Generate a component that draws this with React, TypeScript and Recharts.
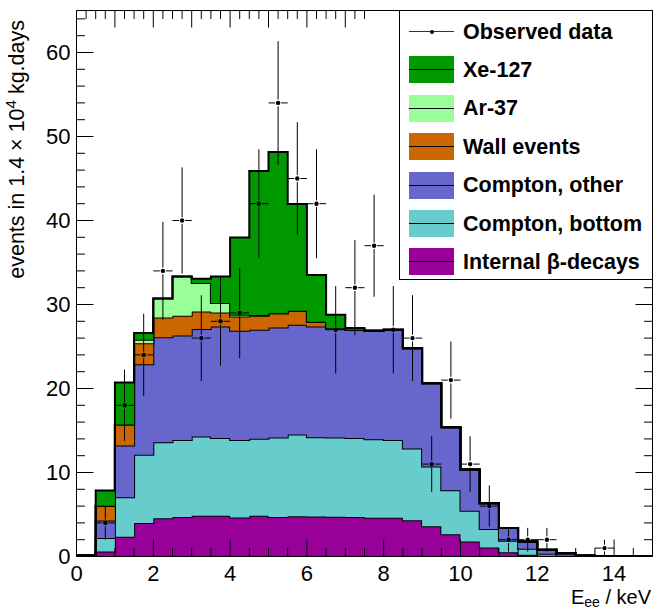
import React from 'react';
import { ComposedChart, Area, Scatter, XAxis, YAxis, ReferenceLine } from 'recharts';

// ---- data (bins of 0.5 keV from 0 to 15 keV) ----
const binEdges = [0, 0.5, 1, 1.5, 2, 2.5, 3, 3.5, 4, 4.5, 5, 5.5, 6, 6.5, 7, 7.5, 8, 8.5, 9, 9.5, 10, 10.5, 11, 11.5, 12, 12.5, 13, 13.5, 14, 14.5, 15];

const internalBeta = [0, 0.6, 2.35, 4.0, 4.55, 4.7, 4.85, 4.85, 4.65, 4.85, 4.7, 4.8, 4.77, 4.74, 4.7, 4.6, 4.6, 4.33, 3.6, 2.64, 1.8, 1.07, 0.52, 0.2, 0.08, 0.03, 0.01, 0, 0, 0];
const comptonBottom = [0, 1.59, 4.7, 8.1, 9.05, 9.16, 9.44, 9.25, 9.21, 9.17, 9.47, 9.72, 9.43, 9.43, 9.4, 9.37, 9.26, 8.53, 7.1, 5.24, 3.64, 2.19, 1.35, 0.71, 0.24, 0.05, 0.01, 0, 0, 0];
const comptonOther = [0, 2.11, 6.15, 10.8, 12.5, 12.44, 12.78, 13.28, 13.01, 12.97, 13.09, 13.06, 13.18, 12.9, 12.85, 12.9, 13.13, 11.94, 9.92, 7.5, 4.91, 3.09, 1.51, 0.88, 0.47, 0.32, 0.1, 0.06, 0.04, 0.03];
const wallEvents = [0.15, 1.74, 2.5, 2.5, 2.35, 2.35, 2.1, 1.67, 1.7, 1.66, 1.71, 1.67, 0.57, 0.1, 0.05, 0, 0, 0, 0, 0, 0, 0, 0, 0, 0, 0, 0, 0, 0, 0];
const ar37 = [0, 0, 0, 0.4, 2.25, 4.68, 3.38, 1.12, 0.2, 0.1, 0, 0, 0, 0, 0, 0, 0, 0, 0, 0, 0, 0, 0, 0, 0, 0, 0, 0, 0, 0];
const xe127 = [0, 1.82, 5.0, 0.8, 0, 0, 0.51, 3.16, 9.21, 17.15, 19.17, 12.7, 5.55, 1.62, 0.2, 0, 0, 0, 0, 0, 0, 0, 0, 0, 0, 0, 0, 0, 0, 0];

const observed = [0, 4, 18, 24, 34, 40, 26, 28, 29, 42, 54, 45, 42, 27, 32, 37, 27, 26, 11, 21, 11, 6, 2, 2, 2, 0, 0, 1, 0, 0];
const observedErr = [0, 2.0, 4.24, 4.9, 5.83, 6.32, 5.1, 5.29, 5.39, 6.48, 7.35, 6.71, 6.48, 5.2, 5.66, 6.08, 5.2, 5.1, 3.32, 4.58, 3.32, 2.45, 1.41, 1.41, 1.41, 0, 0, 1.0, 0, 0];

const xTicks = [0, 0.5, 1, 1.5, 2, 2.5, 3, 3.5, 4, 4.5, 5, 5.5, 6, 6.5, 7, 7.5, 8, 8.5, 9, 9.5, 10, 10.5, 11, 11.5, 12, 12.5, 13, 13.5, 14, 14.5, 15];
const yTicks = [0, 2, 4, 6, 8, 10, 12, 14, 16, 18, 20, 22, 24, 26, 28, 30, 32, 34, 36, 38, 40, 42, 44, 46, 48, 50, 52, 54, 56, 58, 60, 62, 64];

// ---- series config (bottom of stack first) ----
const series = [
  { key: 'ib', name: 'Internal \u03b2-decays', color: '#990099', values: internalBeta },
  { key: 'cb', name: 'Compton, bottom', color: '#66cccc', values: comptonBottom },
  { key: 'co', name: 'Compton, other', color: '#6666cc', values: comptonOther },
  { key: 'we', name: 'Wall events', color: '#cc6600', values: wallEvents },
  { key: 'ar', name: 'Ar-37', color: '#99ff99', values: ar37 },
  { key: 'xe', name: 'Xe-127', color: '#009900', values: xe127 },
];

const nBins = binEdges.length - 1;
const stackRows = binEdges.map((e, i) => {
  const b = Math.min(i, nBins - 1);
  const row: any = { edge: e };
  series.forEach((s) => { row[s.key] = s.values[b]; });
  return row;
});

const points = observed
  .map((v, i) => ({ edge: (binEdges[i] + binEdges[i + 1]) / 2, lo: binEdges[i], hi: binEdges[i + 1], count: v, err: observedErr[i] }))
  .filter((p) => p.count > 0);

// ---- styling ----
const FONT = '"Liberation Sans", Arial, Helvetica, sans-serif';
const MAJ = 17;
const MIN = 8.5;
const VGAP = 0.4;
const HGAP = 0.08;
const isMult = (v: number, m: number) => Math.abs(v / m - Math.round(v / m)) < 1e-6;

function BottomTick(props: any) {
  const { x, y, payload } = props;
  const major = isMult(payload.value, 2);
  return (
    <g>
      <line x1={x} x2={x} y1={y} y2={y - (major ? MAJ : MIN)} stroke="#000" strokeWidth={1} />
      {major && (
        <text x={x} y={y + 24.5} textAnchor="middle" fontSize={22} fontFamily={FONT} fill="#000">{payload.value}</text>
      )}
    </g>
  );
}
function TopTick(props: any) {
  const { x, y, payload } = props;
  const major = isMult(payload.value, 2);
  return <line x1={x} x2={x} y1={y} y2={y + (major ? MAJ : MIN)} stroke="#000" strokeWidth={1} />;
}
function LeftTick(props: any) {
  const { x, y, payload } = props;
  const major = isMult(payload.value, 10);
  return (
    <g>
      <line x1={x} x2={x + (major ? MAJ : MIN)} y1={y} y2={y} stroke="#000" strokeWidth={1} />
      {major && (
        <text x={x - 6} y={y} dy="0.36em" textAnchor="end" fontSize={22} fontFamily={FONT} fill="#000">{payload.value}</text>
      )}
    </g>
  );
}
function RightTick(props: any) {
  const { x, y, payload } = props;
  const major = isMult(payload.value, 10);
  return <line x1={x} x2={x - (major ? MAJ : MIN)} y1={y} y2={y} stroke="#000" strokeWidth={1} />;
}

function YTitle() {
  return (
    <text transform="translate(23.5,20) rotate(-90)" textAnchor="end" fontSize={21.5} fontFamily={FONT} fill="#000">
      events in 1.4 {'\u00d7'} 10<tspan dy={-8} fontSize={15}>4</tspan><tspan dy={8}> kg.days</tspan>
    </text>
  );
}
function XTitle() {
  return (
    <text x={651} y={604} textAnchor="end" fontSize={20} fontFamily={FONT} fill="#000">
      E<tspan dy={2.5} fontSize={14}>ee</tspan><tspan dy={-2.5}> / keV</tspan>
    </text>
  );
}

function Dot(props: any) {
  const { cx, cy } = props;
  if (cx == null || cy == null) return null;
  return <circle cx={cx} cy={cy} r={2.2} fill="#000" />;
}

function LegendBox() {
  const rows = [{ name: 'Observed data', color: null as string | null }].concat(
    series.slice().reverse().map((s) => ({ name: s.name, color: s.color as string | null }))
  );
  return (
    <div
      style={{
        position: 'absolute', left: 399, top: 10, width: 254, height: 270,
        boxSizing: 'border-box', border: '1px solid #000', background: '#fff',
        fontFamily: FONT, fontWeight: 'bold', fontSize: 21.5, color: '#000',
      }}
    >
      {rows.map((r, i) => {
        const cy = 20.5 + 38.4 * i;
        return (
          <div key={r.name}>
            {r.color ? (
              <div style={{ position: 'absolute', left: 9, top: cy - 13.5, width: 45, height: 27, background: r.color }}>
                <div style={{ position: 'absolute', left: 0, top: 13, width: 45, height: 1, background: '#000' }} />
              </div>
            ) : (
              <div style={{ position: 'absolute', left: 9, top: cy - 13.5, width: 45, height: 27 }}>
                <div style={{ position: 'absolute', left: 0, top: 13, width: 45, height: 1, background: '#333' }} />
                <div style={{ position: 'absolute', left: 20.5, top: 11.5, width: 4, height: 4, borderRadius: 2, background: '#000' }} />
              </div>
            )}
            <div style={{ position: 'absolute', left: 63, top: cy - 14, height: 28, lineHeight: '28px', whiteSpace: 'nowrap' }}>{r.name}</div>
          </div>
        );
      })}
    </div>
  );
}

export default function App() {
  return (
    <div style={{ position: 'absolute', left: 0, top: 0, width: 653, height: 610, background: '#fff' }}>
      <ComposedChart width={653} height={610} data={stackRows} margin={{ top: 9.5, right: 0, bottom: 0, left: 0 }}>
        <XAxis
          dataKey="edge" type="number" domain={[0, 15]} allowDataOverflow ticks={xTicks} interval={0}
          height={53.5} tickSize={0} tickMargin={0} tickLine={false} tick={BottomTick}
          axisLine={{ stroke: '#000', strokeWidth: 1 }} label={<XTitle />}
        />
        <XAxis
          xAxisId="t" orientation="top" type="number" domain={[0, 15]} allowDataOverflow ticks={xTicks} interval={0}
          height={1} tickSize={0} tickMargin={0} tickLine={false} tick={TopTick}
          axisLine={{ stroke: '#000', strokeWidth: 1 }}
        />
        <YAxis
          type="number" domain={[0, 65]} allowDataOverflow ticks={yTicks} interval={0}
          width={76.5} tickSize={0} tickMargin={0} tickLine={false} tick={LeftTick}
          axisLine={{ stroke: '#000', strokeWidth: 1 }} label={<YTitle />}
        />
        <YAxis
          yAxisId="r" orientation="right" type="number" domain={[0, 65]} allowDataOverflow ticks={yTicks} interval={0}
          width={0.5} tickSize={0} tickMargin={0} tickLine={false} tick={RightTick}
          axisLine={{ stroke: '#000', strokeWidth: 1 }}
        />
        {series.map((s) => (
          <Area
            key={s.key} dataKey={s.key} name={s.name} stackId="stack" type="stepAfter"
            fill={s.color} fillOpacity={1} stroke="#000" strokeWidth={2}
            dot={false} activeDot={false} isAnimationActive={false}
          />
        ))}
        {points.map((p, i) => [
          p.err > VGAP ? (
            <ReferenceLine key={`u${i}`} ifOverflow="visible" stroke="#000" strokeWidth={1}
              segment={[{ x: p.edge, y: p.count + VGAP }, { x: p.edge, y: p.count + p.err }]} />
          ) : null,
          p.err > VGAP ? (
            <ReferenceLine key={`d${i}`} ifOverflow="visible" stroke="#000" strokeWidth={1}
              segment={[{ x: p.edge, y: p.count - p.err }, { x: p.edge, y: p.count - VGAP }]} />
          ) : null,
          <ReferenceLine key={`l${i}`} ifOverflow="visible" stroke="#000" strokeWidth={1}
            segment={[{ x: p.lo, y: p.count }, { x: p.edge - HGAP, y: p.count }]} />,
          <ReferenceLine key={`r${i}`} ifOverflow="visible" stroke="#000" strokeWidth={1}
            segment={[{ x: p.edge + HGAP, y: p.count }, { x: p.hi, y: p.count }]} />,
        ])}
        <Scatter data={points} dataKey="count" name="Observed data" shape={Dot} isAnimationActive={false} />
      </ComposedChart>
      <LegendBox />
    </div>
  );
}
